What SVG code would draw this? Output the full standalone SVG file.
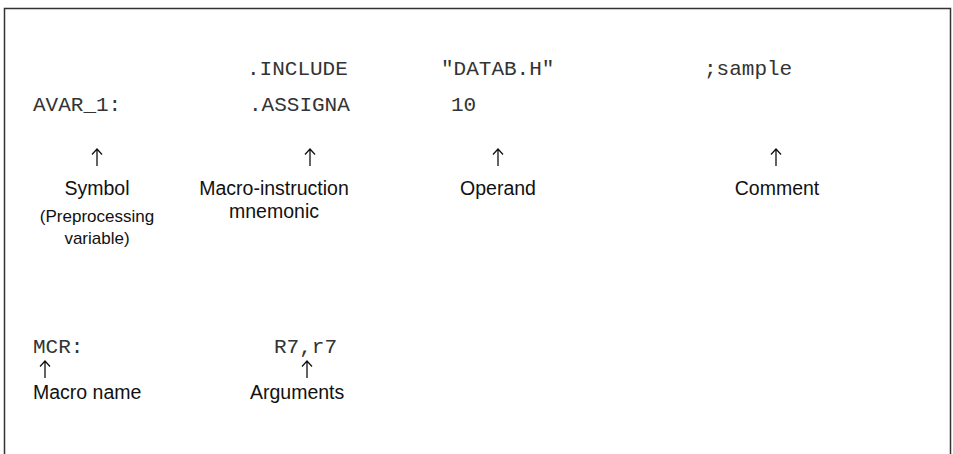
<svg xmlns="http://www.w3.org/2000/svg" width="953" height="454" viewBox="0 0 953 454">
<style>
.code{font-family:"Courier New","Liberation Mono",monospace;font-size:21px;fill:#333}
.lbl{font-family:"Liberation Sans",Arial,sans-serif;font-size:19.5px;fill:#111}
.sub{font-family:"Liberation Sans",Arial,sans-serif;font-size:17px;fill:#111}
.c{text-anchor:middle}
.ar{fill:none;stroke:#111;stroke-width:1.3}
</style>
<defs>
<path id="up" class="ar" d="M0,0 V17 M-5,5.5 L0,0 L5,5.5"/>
</defs>
<rect width="953" height="454" fill="#fff"/>
<path d="M4.5,454 V8.5 H950.5 V454" fill="none" stroke="#333" stroke-width="1.5"/>
<g id="code-line1">
<text class="code" x="247" y="75">.INCLUDE</text>
<text class="code" x="441" y="75">"DATAB.H"</text>
<text class="code" x="704" y="75">;sample</text>
</g>
<g id="code-line2">
<text class="code" x="33" y="111">AVAR_1:</text>
<text class="code" x="249" y="111">.ASSIGNA</text>
<text class="code" x="451" y="111">10</text>
</g>
<g id="connectors">
<use href="#up" x="97" y="149"/>
<use href="#up" x="310" y="149"/>
<use href="#up" x="498" y="149"/>
<use href="#up" x="776" y="149"/>
<use href="#up" x="45" y="361"/>
<use href="#up" x="307" y="361"/>
</g>
<g id="symbol">
<text class="lbl c" x="97" y="195">Symbol</text>
<text class="sub c" x="97" y="222">(Preprocessing</text>
<text class="sub c" x="97" y="244">variable)</text>
</g>
<g id="mnemonic">
<text class="lbl c" x="274" y="195">Macro-instruction</text>
<text class="lbl c" x="274" y="218">mnemonic</text>
</g>
<g id="operand"><text class="lbl c" x="498" y="195">Operand</text></g>
<g id="comment"><text class="lbl c" x="777" y="195">Comment</text></g>
<g id="code-line3">
<text class="code" x="33" y="353">MCR:</text>
<text class="code" x="274" y="353">R7,r7</text>
</g>
<g id="macro-name"><text class="lbl" x="33" y="399">Macro name</text></g>
<g id="arguments"><text class="lbl" x="250" y="399">Arguments</text></g>
</svg>
